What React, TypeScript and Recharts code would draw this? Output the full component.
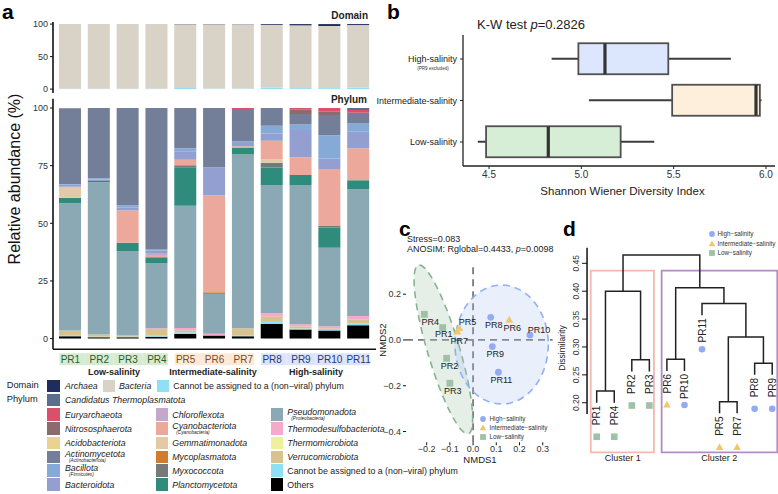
import React from "react";
import {
  BarChart,
  Bar,
  XAxis,
  YAxis,
  ComposedChart,
  Line,
  Scatter,
  ScatterChart,
  ReferenceLine,
  ReferenceArea,
} from "recharts";

const FONT = "'Liberation Sans', Arial, Helvetica, sans-serif";

// ---------- a: community composition ----------
const samples = ["PR1", "PR2", "PR3", "PR4", "PR5", "PR6", "PR7", "PR8", "PR9", "PR10", "PR11"];
const salinity = ["low", "low", "low", "low", "mid", "mid", "mid", "high", "high", "high", "high"];

// domain level (%)
const archaea = [0, 0, 0, 0, 0.4, 0.4, 0.3, 1.2, 2.0, 3.0, 1.5];
const bacteria = [99.4, 99.5, 99.5, 99.5, 97.8, 98.8, 98.9, 96.4, 96.5, 95.5, 96.5];
const unassignedDomain = [0.6, 0.5, 0.5, 0.5, 1.8, 0.8, 0.8, 2.4, 1.5, 1.5, 2.0];

// phylum level (%)
const others = [1.0, 0.6, 0.6, 0.8, 2.0, 1.3, 1.0, 6.3, 3.9, 3.5, 5.8];
const unassigned = [0.5, 0.2, 0.2, 0.4, 0.8, 0.3, 0.5, 1.3, 0.5, 0.7, 0.9];
const verrucomicrobiota = [2.0, 1.0, 0.5, 3.0, 0.8, 0, 3.0, 1.9, 1.0, 0.3, 1.7];
const thermomicrobiota = [0, 0, 0, 0, 0, 0, 0, 0, 0, 0, 0];
const thermodesulfobacteriota = [0, 0, 0, 0.3, 1.0, 0.5, 0, 1.5, 0.8, 0.9, 1.4];
const pseudomonadota = [55.2, 66.0, 36.7, 28.3, 53.0, 17.2, 75.3, 55.6, 60.4, 34.0, 55.0];
const planctomycetota = [2.4, 0.5, 3.6, 2.5, 16.7, 0.4, 2.9, 7.6, 4.3, 8.8, 3.9];
const myxococcota = [0, 0, 0, 0, 0.9, 0, 0, 2.1, 0, 0.6, 0];
const mycoplasmatota = [0, 0, 0, 0, 0, 0.4, 0, 0, 0, 0, 0];
const gemmatimonadota = [4.8, 0, 0, 0, 0, 0, 0, 1.4, 0, 0, 0];
const cyanobacteriota = [0, 0, 14.0, 1.0, 2.4, 42.0, 0.7, 8.1, 7.7, 24.7, 13.8];
const chloroflexota = [0, 0, 0, 0.8, 0, 0, 0, 0, 0, 0, 0];
const bacteroidota = [0.8, 0.7, 1.2, 1.0, 3.7, 12.2, 1.4, 3.2, 11.9, 4.6, 7.2];
const bacillota = [0.3, 0.5, 1.0, 0.8, 1.2, 0, 0.7, 3.3, 2.4, 10.1, 3.6];
const actinomycetota = [32.9, 30.5, 42.2, 61.1, 17.5, 25.7, 14.1, 7.7, 4.5, 8.8, 4.6];
const acidobacteriota = [0, 0, 0, 0, 0, 0, 0, 0, 0, 0, 0];
const nitrososphaerota = [0, 0, 0, 0, 0, 0, 0, 0, 1.9, 1.4, 0];
const euryarchaeota = [0, 0, 0, 0, 0, 0, 0.4, 0, 0.7, 1.6, 1.2];
const thermoplasmatota = [0, 0, 0, 0, 0, 0, 0, 0, 0, 0, 0.9];

// bottom of the stack first
const phylumStack: [string, number[]][] = [
  ["Others", others],
  ["Unassigned", unassigned],
  ["Verrucomicrobiota", verrucomicrobiota],
  ["Thermomicrobiota", thermomicrobiota],
  ["Thermodesulfobacteriota", thermodesulfobacteriota],
  ["Pseudomonadota", pseudomonadota],
  ["Planctomycetota", planctomycetota],
  ["Myxococcota", myxococcota],
  ["Mycoplasmatota", mycoplasmatota],
  ["Gemmatimonadota", gemmatimonadota],
  ["Cyanobacteriota", cyanobacteriota],
  ["Chloroflexota", chloroflexota],
  ["Bacteroidota", bacteroidota],
  ["Bacillota", bacillota],
  ["Actinomycetota", actinomycetota],
  ["Acidobacteriota", acidobacteriota],
  ["Nitrososphaerota", nitrososphaerota],
  ["Euryarchaeota", euryarchaeota],
  ["Candidatus Thermoplasmatota", thermoplasmatota],
];

const colors: Record<string, string> = {
  Archaea: "#1f2c5e",
  Bacteria: "#d8d3c6",
  Unassigned: "#8fdff5",
  Others: "#000000",
  Verrucomicrobiota: "#d8c38f",
  Thermomicrobiota: "#eef09c",
  Thermodesulfobacteriota: "#f6a9c9",
  Pseudomonadota: "#8aa9b4",
  Planctomycetota: "#2f8b7c",
  Myxococcota: "#76797a",
  Mycoplasmatota: "#d37b2b",
  Gemmatimonadota: "#e3caa7",
  Cyanobacteriota: "#eca99b",
  Chloroflexota: "#c5a7ca",
  Bacteroidota: "#929fd0",
  Bacillota: "#86aad8",
  Actinomycetota: "#737f99",
  Acidobacteriota: "#ead38f",
  Nitrososphaerota: "#8d6b6c",
  Euryarchaeota: "#da4f69",
  "Candidatus Thermoplasmatota": "#5a6e8e",
};

const groupColor: Record<string, string> = { high: "#93acf1", mid: "#f4c66a", low: "#9dc2a5" };
const tickBg: Record<string, string> = { low: "#d5ecd1", mid: "#fde9d6", high: "#dce4fb" };
const tickFg: Record<string, string> = { low: "#2e5a2e", mid: "#7a4a22", high: "#26397a" };

const domainRows = samples.map((s, i) => ({
  name: s,
  Unassigned: unassignedDomain[i],
  Bacteria: bacteria[i],
  Archaea: archaea[i],
}));

const phylumRows = samples.map((s, i) => {
  const row: Record<string, any> = { name: s };
  phylumStack.forEach(([k, v]) => (row[k] = v[i]));
  return row;
});

// ---------- b: Shannon diversity boxplot ----------
const boxGroups = ["High-salinity", "Intermediate-salinity", "Low-salinity"];
const boxMin = [4.839, 5.041, 4.439];
const boxQ1 = [4.984, 5.492, 4.484];
const boxMedian = [5.128, 5.946, 4.821];
const boxQ3 = [5.471, 5.967, 5.213];
const boxMax = [5.81, 5.976, 5.395];
const boxFill = ["#dce6fc", "#feefdd", "#d6eed6"];

const boxRows = boxGroups.map((g, i) => ({
  group: g,
  lo: boxMin[i],
  q1: boxQ1[i],
  med: boxMedian[i],
  q3: boxQ3[i],
  hi: boxMax[i],
  fill: boxFill[i],
}));

// ---------- c: NMDS ----------
const nmds1 = [-0.131, -0.114, -0.1, -0.21, -0.059, 0.156, -0.068, 0.076, 0.083, 0.245, 0.109];
const nmds2 = [0.054, -0.08, -0.189, 0.112, 0.051, 0.087, 0.036, 0.099, -0.029, 0.022, -0.141];
const ellipseGroup = ["low", "high"];
const ellipseCx = [-0.128, 0.123];
const ellipseCy = [-0.041, -0.02];
const ellipseRx = [0.069, 0.201];
const ellipseRy = [0.384, 0.26];
const ellipseTilt = [-16.5, 0];

const nmdsPoints = samples.map((s, i) => ({ name: s, group: salinity[i], x: nmds1[i], y: nmds2[i] }));
const ellipses = ellipseGroup.map((g, i) => ({
  group: g,
  x: ellipseCx[i],
  y: ellipseCy[i],
  rx: ellipseRx[i],
  ry: ellipseRy[i],
  tilt: ellipseTilt[i],
}));
const labelShift: Record<string, [number, number]> = {
  PR4: [6, 8],
  PR1: [1, 6],
  PR5: [8, -6],
  PR7: [2, 9],
  PR10: [9, -4.6],
};

// ---------- d: hierarchical clustering ----------
const leafOrder = ["PR1", "PR4", "PR2", "PR3", "PR6", "PR10", "PR11", "PR5", "PR7", "PR8", "PR9"];
const mergeLeft = ["PR1", "PR2", "m1", "PR6", "PR5", "PR8", "m5", "PR11", "m4", "m3"];
const mergeRight = ["PR4", "PR3", "m2", "PR10", "PR7", "PR9", "m6", "m7", "m8", "m9"];
const mergeHeight = [0.221, 0.277, 0.4, 0.278, 0.202, 0.271, 0.318, 0.378, 0.406, 0.465];
const HANG = 0.021;

const nodeX: Record<string, number> = {};
const nodeH: Record<string, number> = {};
const leafEnd: Record<string, number> = {};
leafOrder.forEach((s, i) => (nodeX[s] = i));
const mergeSegments = mergeHeight.map((h, i) => {
  const id = "m" + (i + 1);
  const l = mergeLeft[i];
  const r = mergeRight[i];
  const bottom = (c: string) => {
    if (c.startsWith("m")) return nodeH[c];
    leafEnd[c] = h - HANG;
    return h - HANG;
  };
  const yl = bottom(l);
  const yr = bottom(r);
  nodeX[id] = (nodeX[l] + nodeX[r]) / 2;
  nodeH[id] = h;
  return [
    { x: nodeX[l], y: yl },
    { x: nodeX[l], y: h },
    { x: nodeX[r], y: h },
    { x: nodeX[r], y: yr },
  ];
});
const leafPoints = leafOrder.map((s, i) => ({
  name: s,
  x: i,
  y: leafEnd[s],
  group: salinity[samples.indexOf(s)],
}));

// ---------- helpers ----------
const Marker = ({ group, cx, cy, r = 3.4 }: { group: string; cx: number; cy: number; r?: number }) => {
  const c = groupColor[group];
  if (group === "high") return <circle cx={cx} cy={cy} r={r} fill={c} />;
  if (group === "mid")
    return (
      <polygon
        points={`${cx},${cy - r * 1.25} ${cx - r * 1.15},${cy + r * 0.8} ${cx + r * 1.15},${cy + r * 0.8}`}
        fill={c}
      />
    );
  return <rect x={cx - r} y={cy - r} width={r * 2} height={r * 2} fill={c} />;
};

const T = ({
  x,
  y,
  children,
  size = 9,
  anchor = "start",
  bold = false,
  italic = false,
  color = "#222",
  rotate = 0,
}: any) => {
  const tx = anchor === "start" ? "0" : anchor === "middle" ? "-50%" : "-100%";
  return (
    <div
      style={{
        position: "absolute",
        left: x,
        top: y,
        fontSize: size,
        lineHeight: 1,
        whiteSpace: "nowrap",
        fontWeight: bold ? 700 : 400,
        fontStyle: italic ? "italic" : "normal",
        color,
        transform: `translate(${tx}, -50%)` + (rotate ? ` rotate(${rotate}deg)` : ""),
      }}
    >
      {children}
    </div>
  );
};

const SmallMarker = ({ group, x, y }: { group: string; x: number; y: number }) => (
  <svg style={{ position: "absolute", left: x - 5, top: y - 5 }} width={10} height={10}>
    <Marker group={group} cx={5} cy={5} r={2.9} />
  </svg>
);

// ---------- panel a geometry ----------
const A_W = 380;
const A_L = 53;
const A_R = 376;
const A_PAD = 3;
const BAR_W = 22;
const BAND = (A_R - A_L - 2 * A_PAD) / samples.length;

const SampleTick = (p: any) => {
  const { x, y, payload } = p;
  const i = samples.indexOf(payload.value);
  const g = salinity[i];
  const first = i === 0 || salinity[i - 1] !== g;
  const last = i === samples.length - 1 || salinity[i + 1] !== g;
  const x0 = first ? x - BAR_W / 2 : x - BAND / 2;
  const x1 = last ? x + BAR_W / 2 : x + BAND / 2;
  return (
    <g>
      <rect x={x0} y={y + 4} width={x1 - x0} height={12} fill={tickBg[g]} />
      <text x={x} y={y + 13.6} textAnchor="middle" fontSize={10} fill={tickFg[g]} fontFamily={FONT}>
        {payload.value}
      </text>
    </g>
  );
};

const axisTick = { fontSize: 9, fill: "#333", fontFamily: FONT };

// ---------- panel b ----------
const BoxShape = (p: any) => {
  const { x, y, width, height } = p;
  const d = p.payload ?? p;
  const k = width / (d.hi - d.lo);
  const px = (v: number) => x + (v - d.lo) * k;
  const cy = y + height / 2;
  return (
    <g>
      <line x1={px(d.lo)} x2={px(d.hi)} y1={cy} y2={cy} stroke="#3d3d3d" strokeWidth={2} />
      <rect
        x={px(d.q1)}
        y={y}
        width={px(d.q3) - px(d.q1)}
        height={height}
        fill={d.fill}
        stroke="#505050"
        strokeWidth={1.8}
      />
      <line x1={px(d.med)} x2={px(d.med)} y1={y} y2={y + height} stroke="#333" strokeWidth={3.2} />
    </g>
  );
};

const GroupTick = (p: any) => {
  const { x, y, payload } = p;
  return (
    <g>
      <text x={x} y={y} dy="0.35em" textAnchor="end" fontSize={9} fill="#222" fontFamily={FONT}>
        {payload.value}
      </text>
      {payload.value === "High-salinity" && (
        <text x={x - 24} y={y + 11} textAnchor="middle" fontSize={4.6} fill="#333" fontFamily={FONT}>
          (PR9 excluded)
        </text>
      )}
    </g>
  );
};

// ---------- panel c ----------
const C_X = [-0.289, 0.343];
const C_Y = [-0.447, 0.3275];
const C_PW = 146.7;
const C_PH = 177.3;
const KX = C_PW / (C_X[1] - C_X[0]);
const KY = C_PH / (C_Y[1] - C_Y[0]);

const EllipseShape = (p: any) => {
  const { cx, cy, payload } = p;
  const green = payload.group === "low";
  return (
    <ellipse
      cx={cx}
      cy={cy}
      rx={payload.rx * KX}
      ry={payload.ry * KY}
      transform={`rotate(${payload.tilt} ${cx} ${cy})`}
      fill={green ? "#a9c9ae" : "#aabff5"}
      fillOpacity={green ? 0.3 : 0.25}
      stroke={green ? "#86b393" : "#8fb0f5"}
      strokeWidth={1.6}
      strokeDasharray="7 5"
    />
  );
};

const PointShape = (p: any) => <Marker group={p.payload.group} cx={p.cx} cy={p.cy} r={3.4} />;

const PointLabel = (p: any) => {
  const [dx, dy] = labelShift[p.payload.name] ?? [3, 7.5];
  return (
    <text
      x={p.cx + dx}
      y={p.cy + dy}
      dy="0.35em"
      textAnchor="middle"
      fontSize={9}
      fill="#222"
      fontFamily={FONT}
    >
      {p.payload.name}
    </text>
  );
};

const minus = (v: number, digits: number) => (v < 0 ? "\u2212" : "") + Math.abs(v).toFixed(digits);

// ---------- panel d ----------
const DendroTick = (p: any) => (
  <text
    transform={`translate(${p.x - 1}, ${p.y}) rotate(-90)`}
    textAnchor="middle"
    fontSize={8.5}
    fill="#333"
    fontFamily={FONT}
  >
    {Number(p.payload.value).toFixed(2)}
  </text>
);

const LeafShape = (p: any) => {
  const { cx, cy, payload } = p;
  return (
    <g>
      <text
        transform={`translate(${cx + 3.6}, ${cy + 3}) rotate(-90)`}
        textAnchor="end"
        fontSize={10}
        fill="#222"
        fontFamily={FONT}
      >
        {payload.name}
      </text>
      <Marker group={payload.group} cx={cx} cy={cy + 34} r={3.3} />
    </g>
  );
};

// legend
const LEG_FS = 8.8;
const legendRows = [386, 400, 414.5, 428.7, 443, 457, 470.6, 484.5];
const legendCols = [
  { sw: 47.3, tx: 65 },
  { sw: 155.7, tx: 172.3 },
  { sw: 270.7, tx: 287.3 },
];
const legendItems: [number, number, string, string, string?, boolean?][] = [
  [0, 1, "Candidatus Thermoplasmatota", "Candidatus Thermoplasmatota"],
  [0, 2, "Euryarchaeota", "Euryarchaeota"],
  [0, 3, "Nitrososphaerota", "Nitrososphaerota"],
  [0, 4, "Acidobacteriota", "Acidobacteriota"],
  [0, 5, "Actinomycetota", "Actinomycetota", "(Actinobacteriota)"],
  [0, 6, "Bacillota", "Bacillota", "(Firmicutes)"],
  [0, 7, "Bacteroidota", "Bacteroidota"],
  [1, 2, "Chloroflexota", "Chloroflexota"],
  [1, 3, "Cyanobacteriota", "Cyanobacteriota", "(Cyanobacteria)"],
  [1, 4, "Gemmatimonadota", "Gemmatimonadota"],
  [1, 5, "Mycoplasmatota", "Mycoplasmatota"],
  [1, 6, "Myxococcota", "Myxococcota"],
  [1, 7, "Planctomycetota", "Planctomycetota"],
  [2, 2, "Pseudomonadota", "Pseudomonadota", "(Proteobacteria)"],
  [2, 3, "Thermodesulfobacteriota", "Thermodesulfobacteriota"],
  [2, 4, "Thermomicrobiota", "Thermomicrobiota"],
  [2, 5, "Verrucomicrobiota", "Verrucomicrobiota"],
  [2, 6, "Unassigned", "Cannot be assigned to a (non\u2212viral) phylum", undefined, true],
  [2, 7, "Others", "Others", undefined, true],
];

const Swatch = ({ x, y, color }: { x: number; y: number; color: string }) => (
  <div style={{ position: "absolute", left: x, top: y - 6.3, width: 12.6, height: 12.6, background: color }} />
);

export default function App() {
  return (
    <div
      style={{
        position: "absolute",
        left: 0,
        top: 0,
        width: 778,
        height: 494,
        background: "#fff",
        overflow: "hidden",
        fontFamily: FONT,
        color: "#222",
      }}
    >
      {/* ---- a ---- */}
      <T x={2} y={10.5} size={21} bold color="#000">a</T>
      <div style={{ position: "absolute", left: 0, top: 0 }}>
        <BarChart
          width={A_W}
          height={100}
          data={domainRows}
          margin={{ top: 22, right: A_W - A_R, bottom: 7, left: 0 }}
          barSize={BAR_W}
        >
          <XAxis dataKey="name" hide padding={{ left: A_PAD, right: A_PAD }} />
          <YAxis
            width={A_L}
            domain={[-6, 103.2]}
            ticks={[0, 50, 100]}
            allowDataOverflow
            tick={axisTick}
            tickSize={3}
            tickMargin={2}
            axisLine={{ stroke: "#111", strokeWidth: 1.6 }}
            tickLine={{ stroke: "#111" }}
          />
          {["Unassigned", "Bacteria", "Archaea"].map((k) => (
            <Bar key={k} dataKey={k} stackId="d" fill={colors[k]} isAnimationActive={false} />
          ))}
        </BarChart>
      </div>
      <div style={{ position: "absolute", left: 0, top: 90 }}>
        <BarChart
          width={A_W}
          height={290}
          data={phylumRows}
          margin={{ top: 8.8, right: A_W - A_R, bottom: 14.8, left: 0 }}
          barSize={BAR_W}
        >
          <XAxis
            dataKey="name"
            padding={{ left: A_PAD, right: A_PAD }}
            height={16}
            tickSize={0}
            tickMargin={0}
            tickLine={false}
            axisLine={{ stroke: "#111", strokeWidth: 1.6 }}
            tick={<SampleTick />}
            interval={0}
          />
          <YAxis
            width={A_L}
            domain={[-4.6, 104]}
            ticks={[0, 25, 50, 75, 100]}
            allowDataOverflow
            tick={axisTick}
            tickSize={3}
            tickMargin={2}
            axisLine={{ stroke: "#111", strokeWidth: 1.6 }}
            tickLine={{ stroke: "#111" }}
          />
          {phylumStack.map(([k]) => (
            <Bar key={k} dataKey={k} stackId="p" fill={colors[k]} isAnimationActive={false} />
          ))}
        </BarChart>
      </div>
      <T x={15} y={178.5} size={16} anchor="middle" rotate={-90} color="#111">
        Relative abundance (%)
      </T>
      <T x={368} y={16} size={10} bold anchor="end">Domain</T>
      <T x={367} y={100} size={10} bold anchor="end">Phylum</T>
      <T x={114} y={372} size={9} bold anchor="middle">Low-salinity</T>
      <T x={213} y={372} size={9} bold anchor="middle">Intermediate-salinity</T>
      <T x={316} y={372} size={9} bold anchor="middle">High-salinity</T>

      {/* legend */}
      <T x={6.7} y={legendRows[0]} size={9.3}>Domain</T>
      <T x={6.7} y={legendRows[1]} size={9.3}>Phylum</T>
      <Swatch x={47.3} y={legendRows[0]} color={colors.Archaea} />
      <T x={65} y={legendRows[0]} size={LEG_FS} italic>Archaea</T>
      <Swatch x={102.7} y={legendRows[0]} color={colors.Bacteria} />
      <T x={119} y={legendRows[0]} size={LEG_FS} italic>Bacteria</T>
      <Swatch x={156.7} y={legendRows[0]} color={colors.Unassigned} />
      <T x={173.3} y={legendRows[0]} size={LEG_FS}>Cannot be assigned to a (non{"\u2212"}viral) phylum</T>
      {legendItems.map(([c, r, key, label, sub, plain]) => (
        <React.Fragment key={key}>
          <Swatch x={legendCols[c].sw} y={legendRows[r]} color={colors[key]} />
          <T x={legendCols[c].tx} y={legendRows[r] - (sub ? 2.7 : 0)} size={LEG_FS} italic={!plain}>
            {label}
          </T>
          {sub && (
            <T x={legendCols[c].tx + 4} y={legendRows[r] + 4.3} size={4.7} italic>
              {sub}
            </T>
          )}
        </React.Fragment>
      ))}

      {/* ---- b ---- */}
      <T x={387} y={10.5} size={21} bold color="#000">b</T>
      <T x={477} y={24} size={13}>
        K-W test <i>p</i>=0.2826
      </T>
      <div style={{ position: "absolute", left: 330, top: 0 }}>
        <BarChart
          width={448}
          height={205}
          data={boxRows}
          layout="vertical"
          margin={{ top: 35, right: 3, bottom: 0, left: 0 }}
        >
          <XAxis
            type="number"
            domain={[4.359, 6.049]}
            ticks={[4.5, 5.0, 5.5, 6.0]}
            allowDataOverflow
            tickFormatter={(v: number) => v.toFixed(1)}
            height={39}
            tick={{ fontSize: 10, fill: "#333", fontFamily: FONT }}
            tickSize={3}
            tickMargin={2}
            axisLine={{ stroke: "#222", strokeWidth: 1.3 }}
            tickLine={{ stroke: "#222" }}
          />
          <YAxis
            type="category"
            dataKey="group"
            width={133}
            padding={{ top: 3.25, bottom: 3.25 }}
            tick={<GroupTick />}
            tickSize={3}
            tickMargin={3}
            axisLine={{ stroke: "#222", strokeWidth: 1.3 }}
            tickLine={{ stroke: "#222" }}
          />
          <Bar
            dataKey={(d: any) => [d.lo, d.hi]}
            barSize={31}
            shape={<BoxShape />}
            isAnimationActive={false}
          />
        </BarChart>
      </div>
      <T x={622.5} y={192} size={11.5} anchor="middle">
        Shannon Wiener Diversity Index
      </T>

      {/* ---- c ---- */}
      <T x={399} y={228} size={21} bold color="#000">c</T>
      <T x={407} y={238.5} size={9}>Stress=0.083</T>
      <T x={407} y={248.5} size={9}>
        ANOSIM: Rglobal=0.4433, <i>p</i>=0.0098
      </T>
      <div style={{ position: "absolute", left: 370, top: 205 }}>
        <ScatterChart width={200} height={265} margin={{ top: 60, right: 17.3, bottom: 13.7, left: 0 }}>
          <XAxis
            type="number"
            dataKey="x"
            domain={C_X}
            ticks={[-0.2, -0.1, 0, 0.1, 0.2, 0.3]}
            tickFormatter={(v: number) => minus(v, 1)}
            height={14}
            tick={axisTick}
            tickSize={3}
            tickMargin={0}
            axisLine={false}
            tickLine={{ stroke: "#111" }}
          />
          <YAxis
            type="number"
            dataKey="y"
            domain={C_Y}
            ticks={[-0.4, -0.2, 0, 0.2]}
            tickFormatter={(v: number) => minus(v, 1)}
            width={36}
            tick={axisTick}
            tickSize={3}
            tickMargin={2}
            axisLine={false}
            tickLine={{ stroke: "#111" }}
          />
          <Scatter data={ellipses} shape={<EllipseShape />} isAnimationActive={false} />
          <ReferenceLine x={0} stroke="#7a7a7a" strokeWidth={1.8} strokeDasharray="7 5" />
          <ReferenceLine y={0} stroke="#7a7a7a" strokeWidth={1.8} strokeDasharray="7 5" />
          <Scatter data={nmdsPoints} shape={<PointShape />} isAnimationActive={false} />
          <Scatter data={nmdsPoints} shape={<PointLabel />} isAnimationActive={false} />
          <ReferenceArea fill="none" stroke="#111" strokeWidth={1.2} ifOverflow="visible" />
        </ScatterChart>
      </div>
      <T x={383} y={340} size={9.5} anchor="middle" rotate={-90}>NMDS2</T>
      <T x={480} y={460} size={9.5} anchor="middle">NMDS1</T>
      <SmallMarker group="high" x={483} y={419} />
      <SmallMarker group="mid" x={483} y={428} />
      <SmallMarker group="low" x={483} y={437} />
      <T x={489.5} y={419} size={6.3} color="#333">High{"\u2212"}salinity</T>
      <T x={489.5} y={428} size={6.3} color="#333">Intermediate{"\u2212"}salinity</T>
      <T x={489.5} y={437} size={6.3} color="#333">Low{"\u2212"}salinity</T>

      {/* ---- d ---- */}
      <T x={563} y={228} size={21} bold color="#000">d</T>
      <div style={{ position: "absolute", left: 540, top: 225 }}>
        <ComposedChart width={238} height={245} margin={{ top: 22.7, right: 0, bottom: 56.1, left: 0 }}>
          <XAxis type="number" dataKey="x" hide domain={[-0.55, 10.33]} />
          <YAxis
            type="number"
            domain={[0.18, 0.478]}
            ticks={[0.2, 0.25, 0.3, 0.35, 0.4, 0.45]}
            width={47.05}
            tick={<DendroTick />}
            tickSize={5}
            tickMargin={2}
            axisLine={{ stroke: "#111", strokeWidth: 1.5 }}
            tickLine={{ stroke: "#111" }}
          />
          <ReferenceArea
            x1={-0.34}
            x2={3.26}
            y1={0.111}
            y2={0.437}
            fill="none"
            stroke="#f5b7ae"
            strokeWidth={1.8}
            ifOverflow="visible"
          />
          <ReferenceArea
            x1={3.7}
            x2={10.29}
            y1={0.111}
            y2={0.437}
            fill="none"
            stroke="#b48cc4"
            strokeWidth={1.8}
            ifOverflow="visible"
          />
          {mergeSegments.map((seg, i) => (
            <Line
              key={i}
              data={seg}
              dataKey="y"
              type="linear"
              stroke="#222"
              strokeWidth={1.5}
              dot={false}
              isAnimationActive={false}
            />
          ))}
          <Scatter data={leafPoints} dataKey="y" shape={<LeafShape />} isAnimationActive={false} />
        </ComposedChart>
      </div>
      <T x={562} y={348} size={8.5} anchor="middle" rotate={-90}>Dissimilarity</T>
      <T x={622.7} y={458} size={9} anchor="middle">Cluster 1</T>
      <T x={719.3} y={458} size={9} anchor="middle">Cluster 2</T>
      <SmallMarker group="high" x={711.5} y={234} />
      <SmallMarker group="mid" x={711.5} y={243.5} />
      <SmallMarker group="low" x={711.5} y={253} />
      <T x={717.5} y={234} size={6.3} color="#333">High{"\u2212"}salinity</T>
      <T x={717.5} y={243.5} size={6.3} color="#333">Intermediate{"\u2212"}salinity</T>
      <T x={717.5} y={253} size={6.3} color="#333">Low{"\u2212"}salinity</T>
    </div>
  );
}
